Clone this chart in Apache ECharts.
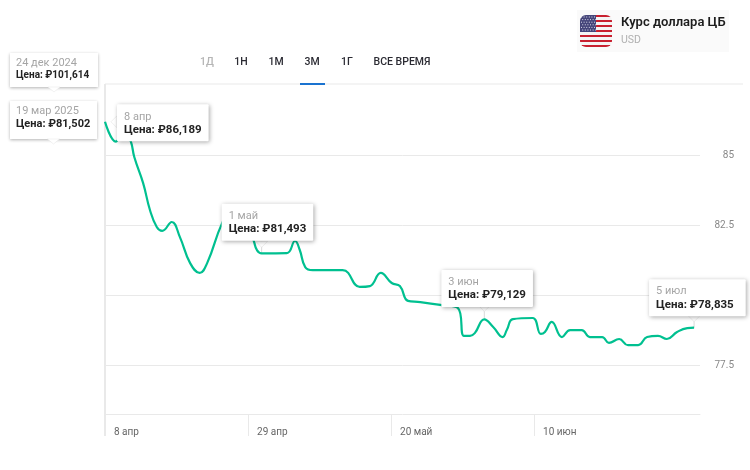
<!DOCTYPE html>
<html>
<head>
<meta charset="utf-8">
<style>
  html, body { margin: 0; padding: 0; background: #fff; }
  #chart { width: 750px; height: 470px; }
</style>
<script src="https://cdn.jsdelivr.net/npm/echarts@6/dist/echarts.min.js"></script>
</head>
<body>
<div id="chart"></div>
<script>
// days counted from 8 Apr
const days = [0, 1.6, 2.8, 3.8, 4.3, 5.6, 6.6, 7.6, 8.4, 9.8, 11, 12.5, 13.9, 15, 17.2, 18.6, 20.3, 21.3, 21.9, 22.3, 23, 26.7, 27.9, 28.6, 29.4, 30.5, 34.9, 37.4, 38.9, 40.5, 42.1, 43.3, 44.5, 46.3, 49.5, 51.8, 52.7, 53.6, 54.3, 55.7, 57, 58.4, 59, 59.9, 62.8, 64, 64.6, 65.6, 67.1, 68.3, 70, 71.2, 73, 74, 75.5, 76.8, 78.3, 79.6, 81.2, 82.5, 84, 85.5, 86.5];
const rates = [86.19, 85.48, 85.96, 85.48, 84.93, 84.0, 83.04, 82.43, 82.29, 82.61, 82.07, 81.14, 80.79, 81.14, 82.57, 83.04, 82.86, 82.39, 81.89, 81.61, 81.49, 81.5, 81.93, 81.61, 81.0, 80.89, 80.89, 80.29, 80.32, 80.79, 80.43, 80.32, 79.79, 79.75, 79.64, 79.54, 78.54, 78.54, 78.64, 79.13, 78.86, 78.5, 78.75, 79.14, 79.18, 78.61, 78.68, 79.04, 78.5, 78.75, 78.75, 78.5, 78.5, 78.29, 78.43, 78.21, 78.21, 78.5, 78.54, 78.43, 78.68, 78.82, 78.835];

const xTicks = [0, 21, 42, 63];
const xLabels = ['8 апр', '29 апр', '20 май', '10 июн'];
const yTicks = [77.5, 80, 82.5, 85];
const periods = ['1Д', '1Н', '1М', '3М', '1Г', 'ВСЕ ВРЕМЯ'];

const tipDays = [0, 23, 55.7, 86.5];
const tipRates = [86.19, 81.49, 79.13, 78.835];
const tipDates = ['8 апр', '1 май', '3 июн', '5 июл'];
const tipPrices = ['₽86,189', '₽81,493', '₽79,129', '₽78,835'];

const font = 'Roboto, "Noto Sans", sans-serif';
const grey = '#e9e9e9';

// flag is painted once and used as a pattern so the corners stay rounded
function flagCanvas() {
  const c = document.createElement('canvas');
  c.width = c.height = 32;
  const g = c.getContext('2d');
  for (let i = 0; i < 13; i++) {
    g.fillStyle = i % 2 ? '#f4f4f4' : '#c8202f';
    g.fillRect(0, Math.round(i * 32 / 13), 32, 3);
  }
  g.fillStyle = '#45457a';
  g.fillRect(0, 0, 16, 17);
  g.fillStyle = '#d8d9e8';
  for (let r = 0; r < 6; r++) {
    for (let k = 0; k < 6; k++) {
      g.fillRect(1 + k * 2.6 + (r % 2) * 1.2, 1.5 + r * 2.6, 1, 1);
    }
  }
  return c;
}

function sideTip(x, y, w, h, date, price, size) {
  return [
    { type: 'rect', shape: { x, y, width: w, height: h }, style: { fill: '#fff', shadowBlur: 3, shadowColor: 'rgba(0,0,0,0.3)', shadowOffsetY: 1 } },
    { type: 'polygon', shape: { points: [[x + w / 2 - 6, y + h], [x + w / 2 + 6, y + h], [x + w / 2, y + h + 5]] }, style: { fill: '#fff', stroke: '#e4e4e4', lineWidth: 0.5 } },
    { type: 'text', x: x + 6, y: y + 5, style: { text: date, fill: '#a5a5a5', font: '11px ' + font } },
    { type: 'text', x: x + 6, y: y + (h > 35 ? 18 : 17), style: { text: 'Цена: ' + price, fill: '#222', font: '700 ' + size + 'px ' + font } }
  ];
}

const periodX = [207, 241, 276, 312, 347, 402];

const chart = echarts.init(document.getElementById('chart'), null, { renderer: 'canvas' });
chart.setOption({
  animation: false,
  backgroundColor: '#fff',
  grid: { left: 105, top: 84, right: 50, bottom: 56 },
  xAxis: {
    type: 'value',
    min: 0,
    max: 87.37,
    axisLine: { show: true, onZero: false, lineStyle: { color: grey, width: 1 } },
    axisTick: { show: true, customValues: xTicks, length: 22, lineStyle: { color: grey, width: 1 } },
    axisLabel: {
      customValues: xTicks,
      formatter: v => xLabels[xTicks.indexOf(v)],
      align: 'left',
      margin: 13,
      padding: [0, 0, 0, 9],
      color: '#666',
      fontSize: 10,
      fontFamily: font
    },
    splitLine: { show: false }
  },
  yAxis: {
    type: 'value',
    position: 'right',
    min: 75.75,
    max: 87.54,
    axisLine: { show: false },
    axisTick: { show: false, customValues: yTicks },
    axisLabel: {
      customValues: yTicks,
      formatter: v => String(v),
      align: 'right',
      margin: 34,
      color: '#888',
      fontSize: 10,
      fontFamily: font
    },
    splitLine: { show: true, lineStyle: { color: grey, width: 1 } }
  },
  graphic: [
    { type: 'line', shape: { x1: 105, y1: 84, x2: 743, y2: 84 }, style: { stroke: grey, lineWidth: 1 } },
    { type: 'line', shape: { x1: 105, y1: 84, x2: 105, y2: 436 }, style: { stroke: grey, lineWidth: 2 } },
    { type: 'rect', shape: { x: 300, y: 83, width: 25, height: 2 }, style: { fill: '#1a73d0' } },
    ...periods.map((p, i) => ({
      type: 'text', x: periodX[i], y: 62,
      style: { text: p, align: 'center', verticalAlign: 'middle', fill: i === 0 ? '#b5b5b5' : '#2b2b33', font: '500 10.5px ' + font }
    })),
    { type: 'rect', shape: { x: 577, y: 10, width: 152, height: 42 }, style: { fill: '#fafafa' } },
    { type: 'rect', x: 580, y: 15, shape: { x: 0, y: 0, width: 32, height: 32, r: 6 }, style: { fill: { image: flagCanvas(), repeat: 'no-repeat' } } },
    { type: 'text', x: 621, y: 23, style: { text: 'Курс доллара ЦБ', verticalAlign: 'middle', fill: '#1c1c1c', font: '600 13px ' + font } },
    { type: 'text', x: 621, y: 40, style: { text: 'USD', verticalAlign: 'middle', fill: '#b0b0b0', font: '10.5px ' + font } },
    ...sideTip(10, 53, 88, 34, '24 дек 2024', '₽101,614', 10),
    ...sideTip(10, 101, 87, 38, '19 мар 2025', '₽81,502', 11)
  ],
  series: [
    {
      // the short grey stems under each callout
      type: 'scatter',
      silent: true,
      z: 1,
      data: tipDays.slice(1).map((d, i) => [d, tipRates[i + 1]]),
      symbol: 'rect',
      symbolSize: [1, 12],
      symbolOffset: [0, -6],
      itemStyle: { color: '#cfcfcf' }
    },
    {
      type: 'line',
      data: days.map((d, i) => [d, rates[i]]),
      smooth: 0.45,
      showSymbol: false,
      z: 2,
      lineStyle: { color: '#00c090', width: 2.2 },
      markPoint: {
        silent: true,
        z: 10,
        animation: false,
        symbol: 'triangle',
        symbolSize: [12, 6],
        itemStyle: { color: '#fff', borderColor: '#e0e0e0', borderWidth: 0.5 },
        label: {
          show: true,
          formatter: p => '{d|' + tipDates[p.dataIndex] + '}\n{p|Цена: ' + tipPrices[p.dataIndex] + '}',
          backgroundColor: '#fff',
          padding: [6, 7, 5, 7],
          borderRadius: 1,
          shadowBlur: 4,
          shadowColor: 'rgba(0,0,0,0.35)',
          shadowOffsetX: 1,
          shadowOffsetY: 1,
          align: 'left',
          rich: {
            d: { color: '#a5a5a5', fontSize: 11, fontFamily: font, lineHeight: 13 },
            p: { color: '#222', fontSize: 11.5, fontWeight: 700, fontFamily: font, lineHeight: 13 }
          }
        },
        data: tipDays.map((d, i) => {
          const item = { coord: [d, tipRates[i]] };
          if (i === 0) {
            item.symbolRotate = 90;
            item.symbolOffset = [9, 0];
            item.label = { position: 'inside', offset: [3, 1] };
          } else {
            item.symbolRotate = 180;
            item.symbolOffset = [0, i === 2 ? -11 : -9];
            item.label = { position: 'inside', offset: [[0, -40, -43, -45][i], [0, -22, -20, -21][i]] };
          }
          if (i === 3) item.label.padding = [6, 12, 5, 7];
          return item;
        })
      }
    }
  ]
});
</script>
</body>
</html>
